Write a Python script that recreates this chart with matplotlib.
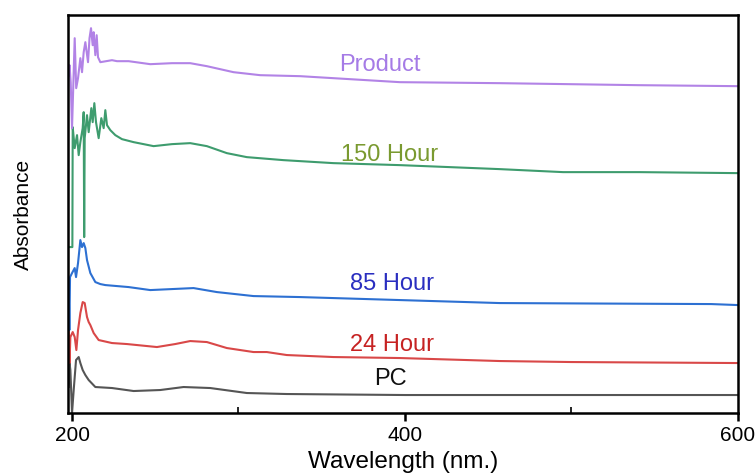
import matplotlib

matplotlib.use('Agg')

import matplotlib.pyplot as plt
from matplotlib.ticker import MultipleLocator

# UV-Vis spectra, offset stacked (arbitrary absorbance units)
wl_product = [198, 198.5, 199.2, 200, 201.6, 202.5, 203.6, 205, 206, 207, 208,
              209.6, 210.5, 211.4, 212.4, 213, 214, 214.8, 215.6, 217, 224, 227,
              234, 247, 260, 271, 281, 297, 313, 337, 357, 397, 457, 499, 540,
              600]
abs_product = [3.38, 3.48, 3.31, 2.85, 3.75, 3.25, 3.35, 3.55, 3.41, 3.61, 3.71,
               3.51, 3.75, 3.85, 3.68, 3.81, 3.58, 3.78, 3.56, 3.51, 3.53, 3.52,
               3.52, 3.49, 3.50, 3.50, 3.47, 3.41, 3.38, 3.37, 3.35, 3.31, 3.30,
               3.29, 3.28, 3.27]

wl_150h = [198, 200.2, 200.4, 201.6, 203, 204, 205, 206.4, 207, 207.3, 207.6,
           209, 210, 211.6, 212.4, 213.4, 214.4, 216, 217.6, 219, 220, 221, 223,
           226, 230, 237, 249, 260, 271, 281, 293, 305, 327, 357, 397, 457, 495,
           541, 600]
abs_150h = [1.66, 1.66, 2.86, 2.65, 2.78, 2.58, 2.71, 2.85, 3.01, 1.76, 2.75,
            2.98, 2.81, 3.05, 2.91, 3.10, 2.91, 2.75, 2.95, 2.85, 3.03, 2.88,
            2.83, 2.78, 2.74, 2.71, 2.67, 2.69, 2.70, 2.67, 2.60, 2.56, 2.53,
            2.50, 2.48, 2.44, 2.41, 2.41, 2.40]

wl_85h = [198, 198.4, 198.8, 200, 201.6, 202.4, 203.6, 205, 206, 207, 208, 209,
          211, 214, 217, 220, 234, 247, 260, 273, 287, 309, 337, 357, 397, 457,
          584, 600]
abs_85h = [1.26, 0.83, 1.36, 1.40, 1.45, 1.36, 1.50, 1.73, 1.66, 1.70, 1.65,
           1.53, 1.40, 1.31, 1.29, 1.28, 1.26, 1.23, 1.24, 1.25, 1.21, 1.17,
           1.16, 1.15, 1.13, 1.10, 1.09, 1.08]

wl_24h = [198, 198.5, 199, 200.4, 201.6, 202.6, 203.6, 205, 206.4, 207.6, 209,
          210, 211, 213, 216, 224, 233, 251, 262, 271, 281, 293, 309, 317, 329,
          357, 397, 457, 500, 600]
abs_24h = [0.83, 0.50, 0.76, 0.81, 0.76, 0.63, 0.83, 1.00, 1.11, 1.10, 0.96,
           0.91, 0.88, 0.80, 0.73, 0.70, 0.69, 0.66, 0.69, 0.72, 0.71, 0.65,
           0.61, 0.61, 0.58, 0.56, 0.55, 0.52, 0.51, 0.50]

wl_pc = [198, 198.5, 199, 200, 201, 202.4, 204, 205, 206.4, 208, 210, 214, 224,
         237, 253, 267, 283, 305, 329, 400, 600]
abs_pc = [0.26, 0.50, 0.43, 0.00, 0.23, 0.53, 0.56, 0.50, 0.43, 0.38, 0.33,
          0.26, 0.25, 0.22, 0.23, 0.26, 0.25, 0.20, 0.19, 0.18, 0.18]

series = [
    (wl_pc, abs_pc, '#555555', 'PC', '#111111', 391, 0.34),
    (wl_24h, abs_24h, '#D94848', '24 Hour', '#C62222', 392, 0.68),
    (wl_85h, abs_85h, '#2D70D2', '85 Hour', '#2A2EC0', 392, 1.29),
    (wl_150h, abs_150h, '#3E9C6E', '150 Hour', '#7A9A30', 391, 2.58),
    (wl_product, abs_product, '#B283E6', 'Product', '#A57BE6', 385, 3.48),
]

plt.rcParams.update({
    'font.family': ['Liberation Sans', 'DejaVu Sans'],
    'font.size': 15,
})

fig = plt.figure(figsize=(7.56, 4.75), dpi=100)
ax = fig.add_axes([0.090, 0.1305, 0.886, 0.8375])

for wl, ab, color, label, text_color, tx, ty in series:
    ax.plot(wl, ab, color=color, linewidth=1.5)
    ax.text(tx, ty, label, color=text_color, fontsize=17,
            ha='center', va='center')

ax.set_xlim(197.6, 600)
ax.set_ylim(0, 3.98)
ax.xaxis.set_major_locator(MultipleLocator(200))
ax.xaxis.set_minor_locator(MultipleLocator(100))
ax.set_yticks([])
ax.tick_params(axis='x', which='major', direction='out', length=6, width=1.8,
               labelsize=15, pad=3)
ax.tick_params(axis='x', which='minor', direction='in', length=4, width=1.2)
for spine in ax.spines.values():
    spine.set_linewidth(1.8)

ax.set_xlabel('Wavelength (nm.)', fontsize=17.5, labelpad=5)
ax.set_ylabel('Absorbance', fontsize=15)
ax.yaxis.set_label_coords(-0.052, 0.5)

fig.savefig('out.png', dpi=100, facecolor='white')
plt.close(fig)
